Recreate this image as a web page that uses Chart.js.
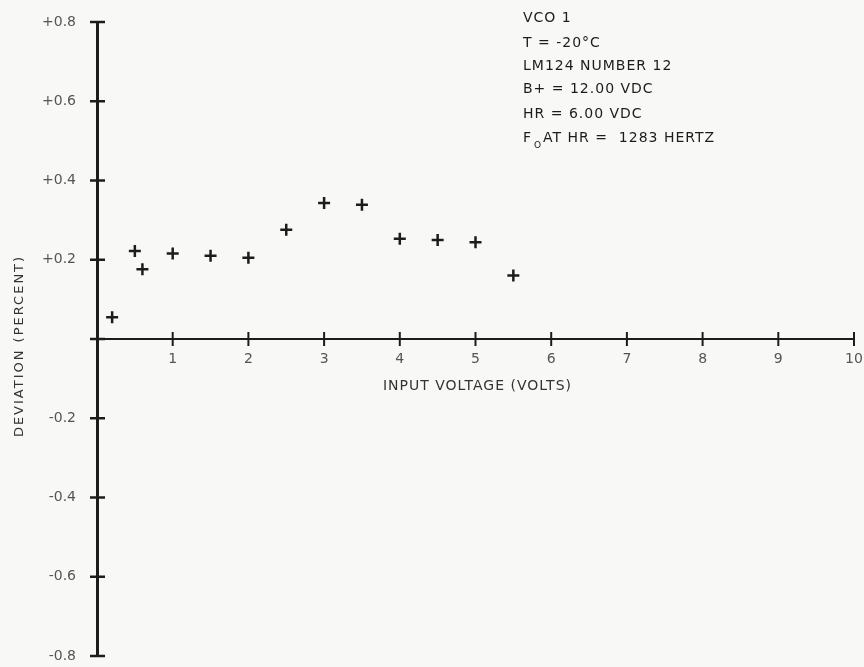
<!DOCTYPE html>
<html>
<head>
<meta charset="utf-8">
<script src="https://cdn.jsdelivr.net/npm/chart.js@4"></script>
<style>
  html, body { margin: 0; padding: 0; background: #f8f8f6; }
  #wrap { width: 864px; height: 667px; }
</style>
</head>
<body>
<div id="wrap"><canvas id="chart"></canvas></div>
<script>
// input voltage (volts) and deviation (percent)
const voltage = [0.2, 0.5, 0.6, 1, 1.5, 2, 2.5, 3, 3.5, 4, 4.5, 5, 5.5];
const deviation = [0.055, 0.222, 0.176, 0.216, 0.210, 0.205, 0.276, 0.343, 0.339, 0.253, 0.250, 0.244, 0.160];

const xTitle = "INPUT VOLTAGE (VOLTS)";
const yTitle = "DEVIATION (PERCENT)";
const notes = ["VCO 1", "T = -20°C", "LM124 NUMBER 12", "B+ = 12.00 VDC", "HR = 6.00 VDC"];
const lastNote = ["F", "O", "AT HR =  1283 HERTZ"];

const ink = "#1c1c1c";
const grey = "#555";

// cross ticks on both axes, titles and the test notes
const paperPlugin = {
    id: "paper",
    beforeDraw(c) {
        const ctx = c.ctx;
        ctx.save();
        ctx.fillStyle = "#f8f8f6";
        ctx.fillRect(0, 0, c.width, c.height);
        ctx.restore();
    },
    afterDraw(c) {
        const ctx = c.ctx;
        const xs = c.scales.x, ys = c.scales.y;
        const x0 = xs.getPixelForValue(0);
        const y0 = ys.getPixelForValue(0);

        ctx.save();
        ctx.strokeStyle = ink;
        ctx.lineWidth = 2.5;
        ys.ticks.forEach(t => {
            const p = ys.getPixelForValue(t.value);
            ctx.beginPath();
            ctx.moveTo(x0 - 7, p);
            ctx.lineTo(x0 + 8, p);
            ctx.stroke();
        });
        ctx.lineWidth = 2;
        xs.ticks.forEach(t => {
            if (t.value === 0) return;
            const p = xs.getPixelForValue(t.value);
            ctx.beginPath();
            ctx.moveTo(p, y0 - 7);
            ctx.lineTo(p, y0 + 7);
            ctx.stroke();
        });

        // axis titles
        ctx.fillStyle = "#333";
        ctx.font = "14px 'DejaVu Sans'";
        ctx.letterSpacing = "1px";
        ctx.textAlign = "center";
        ctx.textBaseline = "middle";
        ctx.fillText(xTitle, xs.getPixelForValue(5) + 2, y0 + 47);

        ctx.save();
        ctx.translate(20, (ys.top + ys.bottom) / 2 + 7);
        ctx.rotate(-Math.PI / 2);
        ctx.font = "13px 'DejaVu Sans'";
        ctx.letterSpacing = "2px";
        ctx.fillText(yTitle, 0, 0);
        ctx.restore();

        // notes block, upper right
        ctx.fillStyle = ink;
        ctx.textAlign = "left";
        ctx.textBaseline = "alphabetic";
        ctx.font = "14px 'DejaVu Sans'";
        ctx.letterSpacing = "1px";
        const nx = 523;
        const lines = [22, 47, 70, 93, 118];
        notes.forEach((s, i) => ctx.fillText(s, nx, lines[i]));
        ctx.fillText(lastNote[0], nx, 142);
        ctx.font = "9px 'DejaVu Sans'";
        ctx.fillText(lastNote[1], nx + 11, 148);
        ctx.font = "14px 'DejaVu Sans'";
        ctx.fillText(lastNote[2], nx + 20, 142);
        ctx.restore();
    }
};

const ctx = document.getElementById("chart").getContext("2d");

new Chart(ctx, {
    type: "scatter",
    data: {
        datasets: [{
            label: "deviation",
            data: voltage.map((v, i) => ({ x: v, y: deviation[i] })),
            pointStyle: "cross",
            pointRadius: 6,
            pointHoverRadius: 6,
            borderColor: ink,
            backgroundColor: ink,
            borderWidth: 2.5
        }]
    },
    options: {
        responsive: true,
        maintainAspectRatio: false,
        animation: false,
        layout: {
            padding: { top: 22, right: 10, bottom: 11, left: 0 }
        },
        plugins: {
            legend: { display: false },
            tooltip: { enabled: false }
        },
        scales: {
            x: {
                type: "linear",
                position: { y: 0 },
                min: 0,
                max: 10,
                afterFit: s => {
                    s.height = 0;
                    s.paddingTop = 0; s.paddingBottom = 0;
                    s.paddingLeft = 0; s.paddingRight = 0;
                },
                ticks: {
                    stepSize: 1,
                    autoSkip: false,
                    maxRotation: 0,
                    padding: 12,
                    color: grey,
                    font: { family: "DejaVu Sans", size: 14 },
                    callback: v => v === 0 ? "" : String(v)
                },
                grid: { display: false, drawTicks: false },
                border: { display: true, color: ink, width: 2 }
            },
            y: {
                type: "linear",
                position: "left",
                min: -0.8,
                max: 0.8,
                afterFit: s => {
                    s.width = 97;
                    s.paddingTop = 0; s.paddingBottom = 0;
                },
                ticks: {
                    stepSize: 0.2,
                    padding: 21,
                    color: grey,
                    font: { family: "DejaVu Sans", size: 14 },
                    callback: v => {
                        const r = Math.round(v * 10) / 10;
                        if (r === 0) return "";
                        return (r > 0 ? "+" : "") + r.toFixed(1);
                    }
                },
                grid: { display: false, drawTicks: false },
                border: { display: true, color: ink, width: 3 }
            }
        }
    },
    plugins: [paperPlugin]
});
</script>
</body>
</html>
